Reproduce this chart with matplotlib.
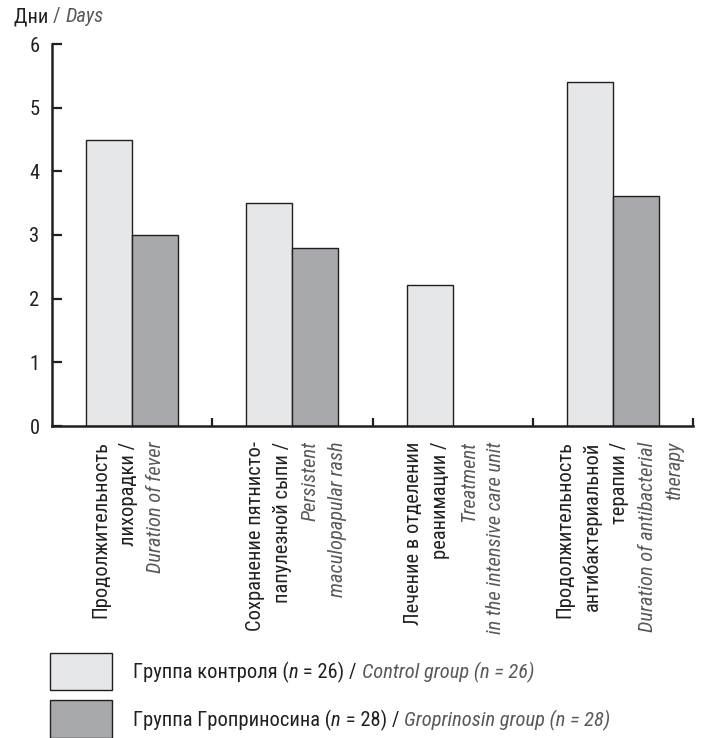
import matplotlib
matplotlib.use("Agg")
import matplotlib.pyplot as plt
from matplotlib import font_manager as fm
from matplotlib.patches import Rectangle
import numpy as np

# ---- data ----
categories_ru = [
    ["Продолжительность", "лихорадки /"],
    ["Сохранение пятнисто-", "папулезной сыпи /"],
    ["Лечение в отделении", "реанимации /"],
    ["Продолжительность", "антибактериальной", "терапии /"],
]
categories_en = [
    ["Duration of fever"],
    ["Persistent", "maculopapular rash"],
    ["Treatment", "in the intensive care unit"],
    ["Duration of antibacterial", "therapy"],
]
control_values = [4.5, 3.5, 2.22, 5.4]
groprinosin_values = [3.0, 2.8, 0.0, 3.62]
y_ticks = [0, 1, 2, 3, 4, 5, 6]

C_CTRL = "#e6e7e8"
C_GRO = "#a7a9ac"
C_TXT = "#231f20"
C_EN = "#58595b"

names = {f.name for f in fm.fontManager.ttflist}
FONT = "Roboto Condensed" if "Roboto Condensed" in names else "Liberation Sans"
plt.rcParams["font.family"] = [FONT, "DejaVu Sans"]
FS = 14.8

W, H = 703, 738
fig = plt.figure(figsize=(W / 100, H / 100), dpi=100)
ax = fig.add_axes([52 / W, 1 - 426 / H, (693 - 52) / W, (426 - 44) / H])

x = np.arange(len(control_values)) + 0.5
bw = 0.2875
ax.bar(x - bw / 2, control_values, bw, color=C_CTRL, edgecolor=C_TXT, linewidth=1.0, zorder=2)
gv = np.array(groprinosin_values)
mask = gv > 0
ax.bar((x + bw / 2)[mask], gv[mask], bw, color=C_GRO, edgecolor=C_TXT, linewidth=1.0, zorder=2)

ax.set_xlim(0, len(control_values))
ax.set_ylim(0, 6)
ax.set_yticks(y_ticks)
ax.set_yticklabels([str(t) for t in y_ticks], fontsize=FS, color=C_TXT)
ax.set_xticks(np.arange(1, len(control_values) + 1))
ax.set_xticklabels([])
ax.tick_params(axis="y", direction="in", length=7, width=1.6, pad=9, colors=C_TXT)
ax.tick_params(axis="x", direction="in", length=6, width=1.6, colors=C_TXT)
for s in ["top", "right"]:
    ax.spines[s].set_visible(False)
for s in ["left", "bottom"]:
    ax.spines[s].set_linewidth(1.8)
    ax.spines[s].set_color(C_TXT)

# rotated category labels
spacing_px = 27.5
offsets_px = [-4, 4, 2, 7]
for i, (ru, en) in enumerate(zip(categories_ru, categories_en)):
    lines = [(t, "normal", C_TXT) for t in ru] + [(t, "italic", C_EN) for t in en]
    n = len(lines)
    for j, (t, style, col) in enumerate(lines):
        dx = ((j - (n - 1) / 2) * spacing_px + offsets_px[i]) * 0.72
        ax.annotate(t, xy=(x[i], 0), xycoords=("data", "axes fraction"),
                    xytext=(dx, -11), textcoords="offset points",
                    rotation=90, ha="center", va="top", fontsize=FS,
                    style=style, color=col, annotation_clip=False)

fig.canvas.draw()
renderer = fig.canvas.get_renderer()


def rich(parts, x0, y0):
    """parts: list of (text, style, color); x0,y0 in pixels from top-left."""
    xp = x0
    for t, style, col in parts:
        txt = fig.text(xp / W, 1 - y0 / H, t, fontsize=FS, style=style, color=col,
                       ha="left", va="baseline")
        bb = txt.get_window_extent(renderer)
        xp += bb.width


rich([("Дни ", "normal", C_TXT), ("/ ", "normal", C_EN), ("Days", "italic", C_EN)], 14, 22)

# legend
fig.patches.append(Rectangle((50 / W, 1 - 690 / H), 62 / W, 37 / H, transform=fig.transFigure,
                             facecolor=C_CTRL, edgecolor=C_TXT, linewidth=1.0))
fig.patches.append(Rectangle((50 / W, 1 - 738 / H), 62 / W, 38 / H, transform=fig.transFigure,
                             facecolor=C_GRO, edgecolor=C_TXT, linewidth=1.0))
rich([("Группа контроля (", "normal", C_TXT), ("n", "italic", C_TXT), (" = 26) / ", "normal", C_TXT),
      ("Control group (n = 26)", "italic", C_EN)], 133, 678)
rich([("Группа Гроприносина (", "normal", C_TXT), ("n", "italic", C_TXT), (" = 28) / ", "normal", C_TXT),
      ("Groprinosin group (n = 28)", "italic", C_EN)], 133, 726)

fig.savefig("out.png", dpi=100)
